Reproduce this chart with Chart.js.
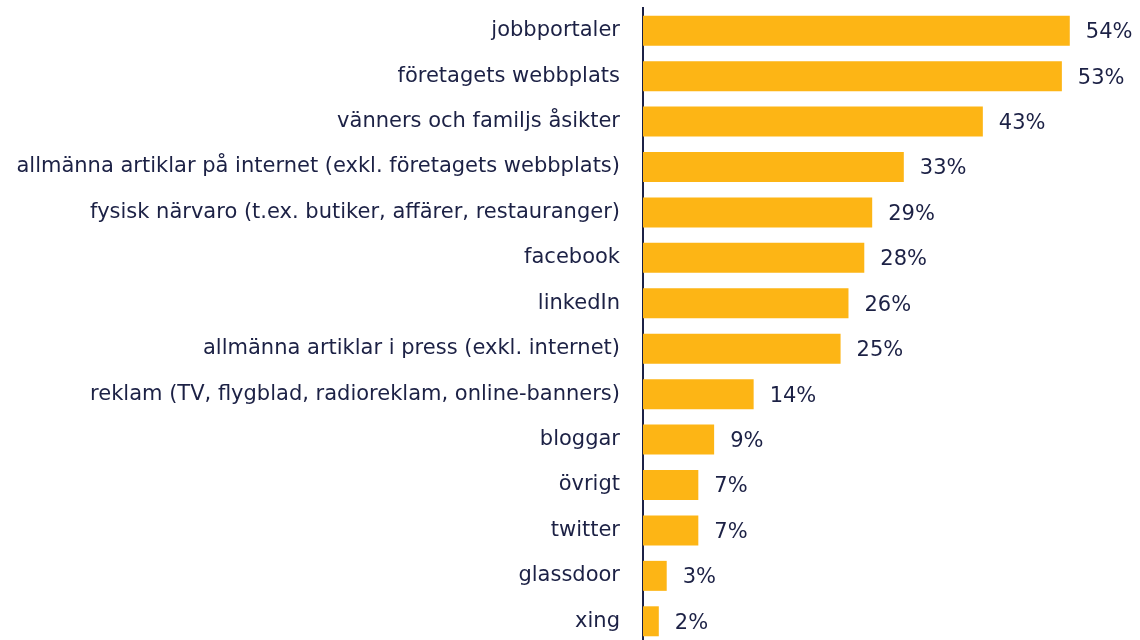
<!DOCTYPE html>
<html><head><meta charset="utf-8">
<script src="https://cdn.jsdelivr.net/npm/chart.js@4/dist/chart.umd.min.js"></script>
<style>html,body{margin:0;padding:0;overflow:hidden;background:#fff}#wrap{position:absolute;left:0;top:0;width:1140px;height:644px}</style>
</head><body><div id="wrap"><canvas id="c" width="1140" height="644"></canvas></div>
<script>
const categories = ["jobbportaler","företagets webbplats","vänners och familjs åsikter","allmänna artiklar på internet (exkl. företagets webbplats)","fysisk närvaro (t.ex. butiker, affärer, restauranger)","facebook","linkedIn","allmänna artiklar i press (exkl. internet)","reklam (TV, flygblad, radioreklam, online-banners)","bloggar","övrigt","twitter","glassdoor","xing"];
const values = [54,53,43,33,29,28,26,25,14,9,7,7,3,2];
const valueLabels = ["54%","53%","43%","33%","29%","28%","26%","25%","14%","9%","7%","7%","3%","2%"];
const TEXT = '#1c2145';
const FONT = {family:'"DejaVu Sans", sans-serif', size:21};
const valuePlugin = {
  id:'vals',
  afterDatasetsDraw(chart){
    const ctx = chart.ctx; const meta = chart.getDatasetMeta(0);
    ctx.save(); ctx.fillStyle = TEXT; ctx.font = FONT.size+'px '+FONT.family;
    ctx.textAlign='left'; ctx.textBaseline='middle';
    meta.data.forEach((bar,i)=>{ ctx.fillText(valueLabels[i], bar.x+16, bar.y+2); });
    ctx.restore();
  }
};
new Chart(document.getElementById('c'),{
  type:'bar',
  data:{labels:categories,datasets:[{data:values,backgroundColor:'#fdb515',borderWidth:0,barPercentage:0.66,categoryPercentage:1}]},
  options:{
    indexAxis:'y', responsive:false, animation:false, devicePixelRatio:1,
    layout:{padding:{top:8,right:7,bottom:0,left:0}},
    plugins:{legend:{display:false},tooltip:{enabled:false}},
    scales:{
      x:{display:false,min:0,max:62},
      y:{
        afterFit(s){ s.width = 643; s.paddingTop = 0; s.paddingBottom = 0; },
        grid:{display:false,drawTicks:false},
        border:{display:true,color:TEXT,width:2},
        ticks:{color:TEXT,font:FONT,padding:23,autoSkip:false}
      }
    }
  },
  plugins:[valuePlugin]
});
</script></body></html>
